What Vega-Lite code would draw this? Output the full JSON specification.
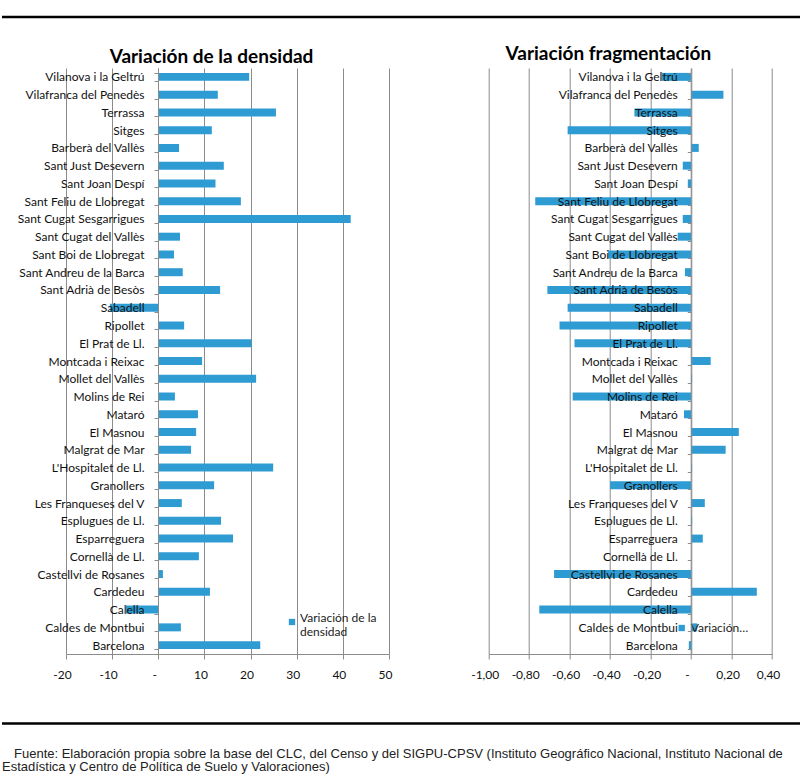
{
  "$schema": "https://vega.github.io/schema/vega-lite/v6.json",
  "padding": {"top": 15, "left": 0, "right": 0, "bottom": 0},
  "background": "white",
  "config": {
    "view": {"stroke": null},
    "font": "Lato",
    "axis": {"labelFont": "Lato", "labelColor": "#111111", "labelFontSize": 12}
  },
  "datasets": {
    "densidad": [
      {"municipio": "Vilanova i la Geltrú", "valor": 19.7},
      {"municipio": "Vilafranca del Penedès", "valor": 12.9},
      {"municipio": "Terrassa", "valor": 25.5},
      {"municipio": "Sitges", "valor": 11.6},
      {"municipio": "Barberà del Vallès", "valor": 4.5},
      {"municipio": "Sant Just Desevern", "valor": 14.2},
      {"municipio": "Sant Joan  Despí", "valor": 12.4},
      {"municipio": "Sant Feliu de Llobregat", "valor": 17.9},
      {"municipio": "Sant Cugat Sesgarrigues", "valor": 41.7},
      {"municipio": "Sant Cugat del Vallès", "valor": 4.7},
      {"municipio": "Sant Boi de Llobregat", "valor": 3.4},
      {"municipio": "Sant Andreu de la Barca", "valor": 5.3},
      {"municipio": "Sant Adrià de Besòs", "valor": 13.4},
      {"municipio": "Sabadell", "valor": -10.5},
      {"municipio": "Ripollet", "valor": 5.6},
      {"municipio": "El Prat de Ll.", "valor": 20.2},
      {"municipio": "Montcada i Reixac", "valor": 9.5},
      {"municipio": "Mollet del Vallès", "valor": 21.2},
      {"municipio": "Molins de Rei", "valor": 3.6},
      {"municipio": "Mataró", "valor": 8.6},
      {"municipio": "El Masnou", "valor": 8.2},
      {"municipio": "Malgrat de Mar", "valor": 7.1},
      {"municipio": "L'Hospitalet de Ll.", "valor": 24.9},
      {"municipio": "Granollers", "valor": 12.1},
      {"municipio": "Les Franqueses del V", "valor": 5.1},
      {"municipio": "Esplugues de Ll.", "valor": 13.6},
      {"municipio": "Esparreguera", "valor": 16.2},
      {"municipio": "Cornellà de Ll.", "valor": 8.8},
      {"municipio": "Castellvi de Rosanes", "valor": 1.0},
      {"municipio": "Cardedeu", "valor": 11.2},
      {"municipio": "Calella", "valor": -7.0},
      {"municipio": "Caldes de Montbui", "valor": 4.9},
      {"municipio": "Barcelona", "valor": 22.1}
    ],
    "fragmentacion": [
      {"municipio": "Vilanova i la Geltrú", "valor": -0.145},
      {"municipio": "Vilafranca del Penedès", "valor": 0.16},
      {"municipio": "Terrassa", "valor": -0.28},
      {"municipio": "Sitges", "valor": -0.61},
      {"municipio": "Barberà del Vallès", "valor": 0.038},
      {"municipio": "Sant Just Desevern", "valor": -0.041},
      {"municipio": "Sant Joan  Despí", "valor": -0.016},
      {"municipio": "Sant Feliu de Llobregat", "valor": -0.77},
      {"municipio": "Sant Cugat Sesgarrigues", "valor": -0.041},
      {"municipio": "Sant Cugat del Vallès", "valor": -0.066},
      {"municipio": "Sant Boi de Llobregat", "valor": -0.41},
      {"municipio": "Sant Andreu de la Barca", "valor": -0.03},
      {"municipio": "Sant Adrià de Besòs", "valor": -0.71},
      {"municipio": "Sabadell", "valor": -0.61},
      {"municipio": "Ripollet", "valor": -0.65},
      {"municipio": "El Prat de Ll.", "valor": -0.576},
      {"municipio": "Montcada i Reixac", "valor": 0.097},
      {"municipio": "Mollet del Vallès", "valor": 0.005},
      {"municipio": "Molins de Rei", "valor": -0.585},
      {"municipio": "Mataró", "valor": -0.035},
      {"municipio": "El Masnou", "valor": 0.236},
      {"municipio": "Malgrat de Mar", "valor": 0.171},
      {"municipio": "L'Hospitalet de Ll.", "valor": 0.005},
      {"municipio": "Granollers", "valor": -0.40},
      {"municipio": "Les Franqueses del V", "valor": 0.068},
      {"municipio": "Esplugues de Ll.", "valor": 0.005},
      {"municipio": "Esparreguera", "valor": 0.058},
      {"municipio": "Cornellà de Ll.", "valor": 0},
      {"municipio": "Castellvi de Rosanes", "valor": -0.677},
      {"municipio": "Cardedeu", "valor": 0.325},
      {"municipio": "Calella", "valor": -0.75},
      {"municipio": "Caldes de Montbui", "valor": 0.03},
      {"municipio": "Barcelona", "valor": -0.011}
    ],
    "fuente": [
      {"linea": 1, "texto": "Fuente: Elaboración propia sobre la base del CLC, del Censo y del SIGPU-CPSV (Instituto Geográfico Nacional, Instituto Nacional de"},
      {"linea": 2, "texto": "Estadística y Centro de Política de Suelo y Valoraciones)"}
    ]
  },
  "spacing": 26,
  "vconcat": [
    {
      "width": 800,
      "height": 2,
      "data": {"values": [{"linea": "superior"}]},
      "mark": {"type": "rule", "color": "#000000", "strokeWidth": 2.5},
      "encoding": {
        "y": {"datum": 0, "type": "quantitative", "scale": {"domain": [0, 1]}, "axis": null}
      }
    },
    {
      "bounds": "flush",
      "spacing": 63,
      "hconcat": [
        {
          "width": 1,
          "height": 586,
          "data": {"values": [{"vacio": ""}]},
          "mark": {"type": "text"},
          "encoding": {"text": {"field": "vacio"}}
        },
        {
          "bounds": "flush",
          "spacing": 99.7,
          "resolve": {"scale": {"color": "independent", "x": "independent", "y": "independent"}, "legend": {"color": "independent"}},
          "hconcat": [
            {
              "width": 323,
              "height": 586,
              "data": {"name": "densidad"},
              "title": {"text": "Variación de la densidad", "font": "Lato", "fontSize": 19, "fontWeight": "bold", "color": "#000000", "anchor": "middle", "dx": -16, "offset": -20, "baseline": "alphabetic"},
              "mark": {"type": "bar"},
              "encoding": {
                "y": {
                  "field": "municipio", "type": "nominal", "sort": null,
                  "scale": {"paddingInner": 0.55, "paddingOuter": 0.275},
                  "axis": {"title": null, "orient": "left", "offset": -92, "zindex": 1, "grid": false, "tickBand": "extent", "tickSize": 4, "labelPadding": 10, "domainColor": "#8c8c8c", "tickColor": "#8c8c8c", "labelOverlap": false, "labelLimit": 300}
                },
                "x": {
                  "field": "valor", "type": "quantitative",
                  "scale": {"domain": [-20, 50], "nice": false},
                  "axis": {"title": null, "values": [-20, -10, 0, 10, 20, 30, 40, 50], "grid": true, "gridColor": "#8c8c8c", "domainColor": "#8c8c8c", "tickColor": "#8c8c8c", "tickSize": 5, "labelPadding": 10, "labelOffset": -4, "labelFlush": false, "labelExpr": "datum.value == 0 ? '-\u00a0\u00a0' : (datum.value < 0 ? '-' : '') + format(abs(datum.value), 'd')"}
                },
                "color": {
                  "datum": "Variación de la densidad", "type": "nominal",
                  "scale": {"range": ["#2e9bd3"]},
                  "legend": {"orient": "none", "legendX": 220, "legendY": 548, "title": null, "padding": 0, "symbolType": "square", "symbolSize": 40, "symbolStrokeWidth": 0, "labelFont": "Lato", "labelFontSize": 12, "labelColor": "#222222", "labelOffset": 2, "labelBaseline": "alphabetic", "labelExpr": "['Variación de la', 'densidad']"}
                }
              }
            },
            {
              "width": 283.3,
              "height": 586,
              "data": {"name": "fragmentacion"},
              "title": {"text": "Variación fragmentación", "font": "Lato", "fontSize": 19, "fontWeight": "bold", "color": "#000000", "anchor": "middle", "dx": -22, "offset": -17, "baseline": "alphabetic"},
              "mark": {"type": "bar"},
              "encoding": {
                "y": {
                  "field": "municipio", "type": "nominal", "sort": null,
                  "scale": {"paddingInner": 0.55, "paddingOuter": 0.275},
                  "axis": {"title": null, "orient": "left", "offset": -202.6, "zindex": 1, "grid": false, "tickBand": "extent", "tickSize": 4, "labelPadding": 10, "domainColor": "#8c8c8c", "tickColor": "#8c8c8c", "labelOverlap": false, "labelLimit": 300}
                },
                "x": {
                  "field": "valor", "type": "quantitative",
                  "scale": {"domain": [-1, 0.4], "nice": false},
                  "axis": {"title": null, "values": [-1, -0.8, -0.6, -0.4, -0.2, 0, 0.2, 0.4], "grid": true, "gridColor": "#8c8c8c", "domainColor": "#8c8c8c", "tickColor": "#8c8c8c", "tickSize": 5, "labelPadding": 10, "labelOffset": -4, "labelFlush": false, "labelExpr": "abs(datum.value) < 0.0001 ? '-\u00a0\u00a0' : (datum.value < 0 ? '-' : '') + replace(format(abs(datum.value), '.2f'), '.', ',')"}
                },
                "color": {
                  "datum": "Variación fragmentación", "type": "nominal",
                  "scale": {"range": ["#2e9bd3"]},
                  "legend": {"orient": "none", "legendX": 187, "legendY": 554, "title": null, "padding": 0, "symbolType": "square", "symbolSize": 40, "symbolStrokeWidth": 0, "labelFont": "Lato", "labelFontSize": 12, "labelColor": "#222222", "labelOffset": 3, "labelExpr": "truncate(datum.label, 10, 'right', '…')"}
                }
              }
            }
          ]
        }
      ]
    },
    {
      "width": 800,
      "height": 68,
      "data": {"name": "fuente"},
      "layer": [
        {
          "transform": [{"filter": "datum.linea == 1"}],
          "mark": {"type": "rule", "color": "#000000", "strokeWidth": 2.5},
          "encoding": {
            "y": {"datum": 17.5, "type": "quantitative", "scale": {"domain": [0, 68], "reverse": true}, "axis": null}
          }
        },
        {
          "transform": [{"filter": "datum.linea == 1"}],
          "mark": {"type": "text", "align": "left", "baseline": "alphabetic", "dx": 12, "font": "Liberation Sans", "fontSize": 13, "color": "#222222"},
          "encoding": {
            "x": {"datum": 0, "type": "quantitative", "scale": {"domain": [0, 1]}, "axis": null},
            "y": {"datum": 51.5, "type": "quantitative", "scale": {"domain": [0, 68], "reverse": true}, "axis": null},
            "text": {"field": "texto"}
          }
        },
        {
          "transform": [{"filter": "datum.linea == 2"}],
          "mark": {"type": "text", "align": "left", "baseline": "alphabetic", "dx": 0, "font": "Liberation Sans", "fontSize": 13, "color": "#222222"},
          "encoding": {
            "x": {"datum": 0, "type": "quantitative", "scale": {"domain": [0, 1]}, "axis": null},
            "y": {"datum": 65, "type": "quantitative", "scale": {"domain": [0, 68], "reverse": true}, "axis": null},
            "text": {"field": "texto"}
          }
        }
      ]
    }
  ]
}
